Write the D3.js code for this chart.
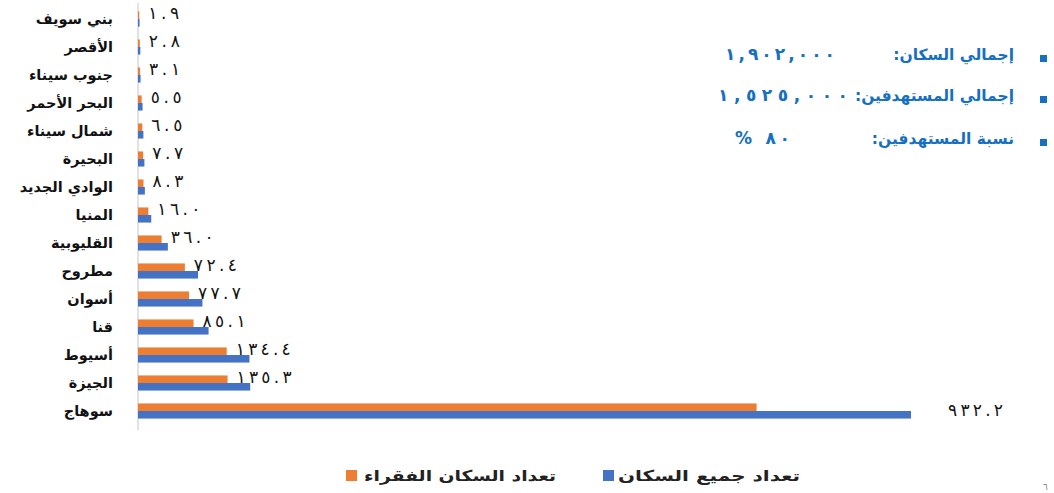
<!DOCTYPE html>
<html><head><meta charset="utf-8">
<script src="https://cdn.jsdelivr.net/npm/d3@7/dist/d3.min.js"></script>
<style>
html,body{margin:0;padding:0;background:#fff;}
svg{display:block;font-family:"DejaVu Sans",sans-serif;}
</style></head><body>
<svg id="chart" width="1054" height="493"></svg>
<script>
const categories = ["بني سويف","الأقصر","جنوب سيناء","البحر الأحمر","شمال سيناء","البحيرة","الوادي الجديد","المنيا","القليوبية","مطروح","أسوان","قنا","أسيوط","الجيزة","سوهاج"];
const totalPop = [1.9,2.8,3.1,5.5,6.5,7.7,8.3,16.0,36.0,72.4,77.7,85.1,134.4,135.3,932.2];
const poorPop  = [1.5,2.2,2.5,4.4,5.2,6.2,6.6,12.5,28.5,56.5,61.5,67.0,107.0,108.0,746.0];
const valueLabels = ["١.٩","٢.٨","٣.١","٥.٥","٦.٥","٧.٧","٨.٣","١٦.٠","٣٦.٠","٧٢.٤","٧٧.٧","٨٥.١","١٣٤.٤","١٣٥.٣","٩٣٢.٢"];
const seriesNames = ["تعداد جميع السكان","تعداد السكان الفقراء"];
const infoLabels = ["إجمالي السكان:","إجمالي المستهدفين:","نسبة المستهدفين:"];
const infoValues = ["١,٩٠٢,٠٠٠","١,٥٢٥,٠٠٠","٨٠ %"];

const colors = {total:"#4472C4", poor:"#ED7D31", info:"#1570C2"};
const svg = d3.select("#chart");

const x = d3.scaleLinear().domain([0, 932.2]).range([138, 911]);
const y = d3.scaleBand().domain(categories).range([5, 425]).paddingInner(0.46).paddingOuter(0.23);
const sub = d3.scaleBand().domain(["poor","total"]).range([0, y.bandwidth()]);

// axis line
svg.append("line").attr("x1",138).attr("x2",138).attr("y1",3).attr("y2",430)
  .attr("stroke","#d9d9d9").attr("stroke-width",1.5);

const g = svg.append("g");
const rows = g.selectAll("g.row").data(categories).join("g")
  .attr("transform", d => `translate(0,${y(d)})`);

rows.append("rect").attr("x", x(0)).attr("y", sub("poor"))
  .attr("width", (d,i) => x(poorPop[i]) - x(0)).attr("height", sub.bandwidth())
  .attr("fill", colors.poor);
rows.append("rect").attr("x", x(0)).attr("y", sub("total"))
  .attr("width", (d,i) => x(totalPop[i]) - x(0)).attr("height", sub.bandwidth())
  .attr("fill", colors.total);

// category labels (rtl: start anchor = right edge)
rows.append("text").attr("x", 113).attr("y", y.bandwidth()/2 + 5)
  .attr("text-anchor","start").attr("direction","rtl")
  .attr("font-size", 14.5).attr("font-weight","bold").attr("fill","#111")
  .text(d => d);

// value labels
const last = categories.length - 1;
rows.append("text")
  .attr("x", (d,i) => i === last ? x(totalPop[i]) + 37 : x(poorPop[i]) + 9)
  .attr("y", (d,i) => i === last ? y.bandwidth()/2 + 5 : y.bandwidth()/2)
  .attr("font-size", 17).attr("fill","#111")
  .attr("textLength", (d,i) => valueLabels[i].length * 12 - 5)
  .attr("lengthAdjust","spacing")
  .text((d,i) => valueLabels[i]);

// info box
const infoY = [60, 101, 144];
infoLabels.forEach((t,i) => {
  svg.append("rect").attr("x",1040).attr("y",infoY[i]-5).attr("width",7).attr("height",7).attr("fill",colors.info);
  svg.append("text").attr("x",1014).attr("y",infoY[i]).attr("text-anchor","start").attr("direction","rtl")
    .attr("font-size",15.5).attr("font-weight","bold").attr("fill",colors.info).text(t);
});
svg.append("text").attr("x",725).attr("y",infoY[0])
  .attr("font-size",17).attr("font-weight","bold").attr("fill",colors.info)
  .attr("textLength", 110).attr("lengthAdjust","spacing").text(infoValues[0]);
svg.append("text").attr("x",718).attr("y",infoY[1])
  .attr("font-size",17).attr("font-weight","bold").attr("fill",colors.info)
  .attr("textLength", 130).attr("lengthAdjust","spacing").text(infoValues[1]);
svg.append("text").attr("x",790).attr("y",infoY[2]).attr("text-anchor","start").attr("direction","rtl")
  .attr("font-size",17).attr("font-weight","bold").attr("fill",colors.info)
  .attr("textLength", 55).attr("lengthAdjust","spacing").text(infoValues[2]);

// legend
const legend = [{name:seriesNames[0], color:colors.total, sx:603, tx:800, w:182},
                {name:seriesNames[1], color:colors.poor, sx:346, tx:556, w:192}];
legend.forEach(l => {
  svg.append("rect").attr("x",l.sx).attr("y",470).attr("width",11).attr("height",11).attr("fill",l.color);
  svg.append("text").attr("x",l.tx).attr("y",481).attr("text-anchor","start").attr("direction","rtl")
    .attr("font-size",15).attr("font-weight","bold").attr("fill","#222")
    .attr("textLength", l.w).attr("lengthAdjust","spacingAndGlyphs").text(l.name);
});

svg.append("text").attr("x",1043).attr("y",490).attr("font-size",9).attr("fill","#888").text("٦");
</script>
</body></html>
